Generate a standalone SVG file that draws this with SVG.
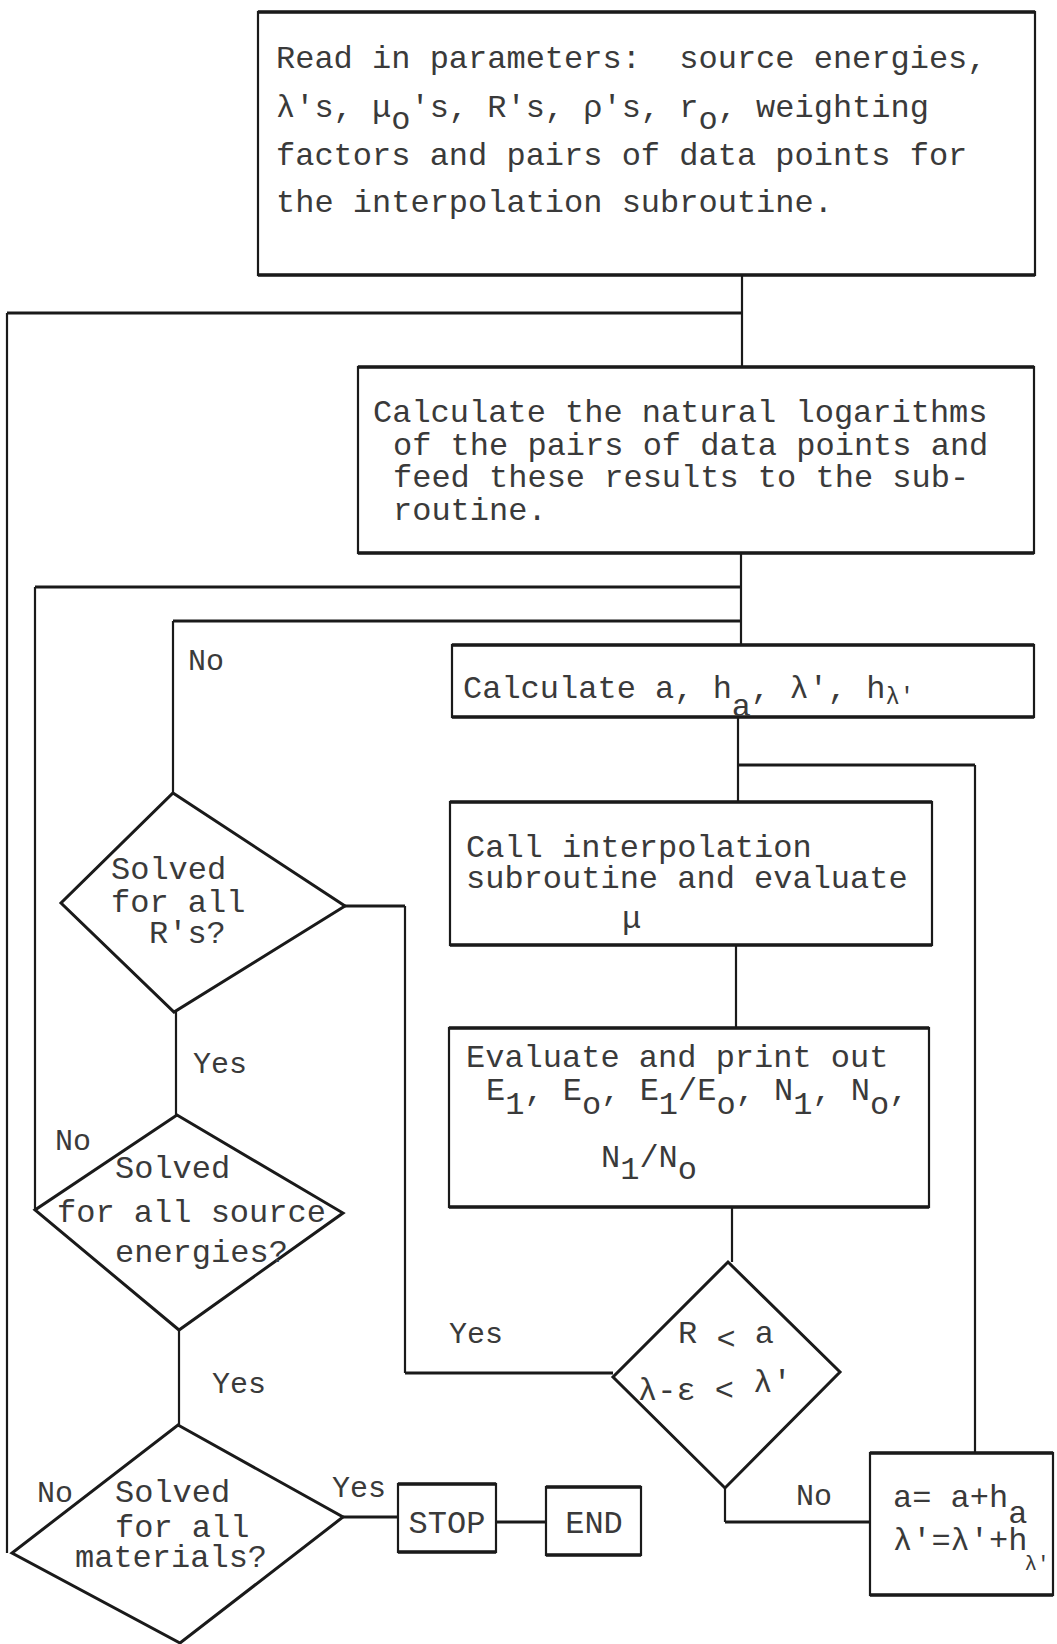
<svg xmlns="http://www.w3.org/2000/svg" width="1057" height="1644" viewBox="0 0 1057 1644">
<style>
.bg{fill:#ffffff}
.box{fill:none;stroke:#1a1a1a;stroke-width:2.2}
.edge{fill:none;stroke:#1a1a1a;stroke-width:3.5}
.dia{fill:none;stroke:#1a1a1a;stroke-width:3;stroke-linejoin:miter}
.con{fill:none;stroke:#1a1a1a;stroke-width:2.2}
.conh{fill:none;stroke:#1a1a1a;stroke-width:3.2}
text{font-family:"Liberation Mono","DejaVu Sans Mono",monospace;font-size:32px;fill:#3a3a3a;white-space:pre}
.lbl{font-size:30px}
.sm{font-size:24px}
.xs{font-size:21px}
.mid{text-anchor:middle}
</style>
<rect class="bg" x="0" y="0" width="1057" height="1644"/>

<g id="connectors">
  <path class="con" d="M742,275 V367"/>
  <path class="con" d="M7,1553 V313"/>
  <path class="conh" d="M7,313 H742"/>
  <path class="con" d="M741,553 V645"/>
  <path class="con" d="M35,1210 V587"/>
  <path class="conh" d="M35,587 H741"/>
  <path class="con" d="M173,793 V621"/>
  <path class="conh" d="M173,621 H741"/>
  <path class="con" d="M738,717 V802"/>
  <path class="con" d="M975,1453 V765"/>
  <path class="conh" d="M975,765 H738"/>
  <path class="con" d="M736,945 V1028"/>
  <path class="con" d="M732,1207 V1262"/>
  <path class="conh" d="M345,906 H405"/>
  <path class="con" d="M405,906 V1373"/>
  <path class="conh" d="M405,1373 H613"/>
  <path class="con" d="M725,1488 V1522"/>
  <path class="conh" d="M725,1522 H870"/>
  <path class="con" d="M176,1012 V1115"/>
  <path class="con" d="M179,1330 V1425"/>
  <path class="conh" d="M343,1517 H398"/>
  <path class="conh" d="M496,1522 H546"/>
</g>

<g id="read-params">
  <rect class="box" x="258" y="12" width="777" height="263"/>
  <path class="edge" d="M258,12 H1035 M258,275 H1035"/>
  <text x="276" y="68" xml:space="preserve">Read in parameters:  source energies,</text>
  <text x="276" y="117">λ's, μ<tspan dy="12">o</tspan><tspan dy="-12">'s, R's, ρ's, r</tspan><tspan dy="12">o</tspan><tspan dy="-12">, weighting</tspan></text>
  <text x="276" y="165">factors and pairs of data points for</text>
  <text x="276" y="212">the interpolation subroutine.</text>
</g>

<g id="calc-logs">
  <rect class="box" x="358" y="367" width="676" height="186"/>
  <path class="edge" d="M358,367 H1034 M358,553 H1034"/>
  <text x="373" y="422">Calculate the natural logarithms</text>
  <text x="393" y="455">of the pairs of data points and</text>
  <text x="393" y="487">feed these results to the sub-</text>
  <text x="393" y="520">routine.</text>
</g>

<g id="calc-a">
  <rect class="box" x="452" y="645" width="582" height="72"/>
  <path class="edge" d="M452,645 H1034 M452,717 H1034"/>
  <text x="463" y="698">Calculate a, h<tspan dy="18">a</tspan><tspan dy="-18">, λ', h</tspan><tspan class="sm" dy="6">λ'</tspan></text>
</g>

<g id="call-interp">
  <rect class="box" x="450" y="802" width="482" height="143"/>
  <path class="edge" d="M450,802 H932 M450,945 H932"/>
  <text x="466" y="857">Call interpolation</text>
  <text x="466" y="888">subroutine and evaluate</text>
  <text x="622" y="928">μ</text>
</g>

<g id="evaluate-print">
  <rect class="box" x="449" y="1028" width="480" height="179"/>
  <path class="edge" d="M449,1028 H929 M449,1207 H929"/>
  <text x="466" y="1067">Evaluate and print out</text>
  <text x="486" y="1100">E<tspan dy="14">1</tspan><tspan dy="-14">, E</tspan><tspan dy="14">o</tspan><tspan dy="-14">, E</tspan><tspan dy="14">1</tspan><tspan dy="-14">/E</tspan><tspan dy="14">o</tspan><tspan dy="-14">, N</tspan><tspan dy="14">1</tspan><tspan dy="-14">, N</tspan><tspan dy="14">o</tspan><tspan dy="-14">,</tspan></text>
  <text x="601" y="1167">N<tspan dy="12">1</tspan><tspan dy="-12">/N</tspan><tspan dy="12">o</tspan></text>
</g>

<g id="solved-rs">
  <polygon class="dia" points="173,793 345,906 174,1012 61,903"/>
  <text x="111" y="879">Solved</text>
  <text x="111" y="912">for all</text>
  <text x="149" y="943">R's?</text>
</g>

<g id="solved-energies">
  <polygon class="dia" points="177,1115 343,1213 179,1330 35,1210"/>
  <text x="115" y="1178">Solved</text>
  <text x="57" y="1222">for all source</text>
  <text x="115" y="1262">energies?</text>
</g>

<g id="solved-materials">
  <polygon class="dia" points="178,1425 343,1517 180,1643 12,1553"/>
  <text x="115" y="1502">Solved</text>
  <text x="115" y="1537">for all</text>
  <text x="75" y="1567">materials?</text>
</g>

<g id="test-r-a">
  <polygon class="dia" points="728,1262 840,1372 725,1488 613,1377"/>
  <text x="678" y="1343">R <tspan dy="6">&lt;</tspan><tspan dy="-6"> a</tspan></text>
  <text x="638" y="1400">λ-ε &lt; <tspan dy="-8">λ'</tspan></text>
</g>

<g id="stop">
  <rect class="box" x="398" y="1484" width="98" height="68"/>
  <path class="edge" d="M398,1484 H496 M398,1552 H496"/>
  <text class="mid" x="447" y="1533">STOP</text>
</g>

<g id="end">
  <rect class="box" x="546" y="1487" width="95" height="68"/>
  <path class="edge" d="M546,1487 H641 M546,1555 H641"/>
  <text class="mid" x="594" y="1533">END</text>
</g>

<g id="increment">
  <rect class="box" x="870" y="1453" width="183" height="142"/>
  <path class="edge" d="M870,1453 H1053 M870,1595 H1053"/>
  <text x="893" y="1507">a= a+h<tspan dy="16">a</tspan></text>
  <text x="893" y="1550">λ'=λ'+h<tspan class="xs" dy="20" dx="-3">λ'</tspan></text>
</g>

<g id="labels">
  <text class="lbl" x="188" y="670">No</text>
  <text class="lbl" x="193" y="1073">Yes</text>
  <text class="lbl" x="55" y="1150">No</text>
  <text class="lbl" x="449" y="1343">Yes</text>
  <text class="lbl" x="212" y="1393">Yes</text>
  <text class="lbl" x="37" y="1502">No</text>
  <text class="lbl" x="332" y="1497">Yes</text>
  <text class="lbl" x="796" y="1505">No</text>
</g>
</svg>
